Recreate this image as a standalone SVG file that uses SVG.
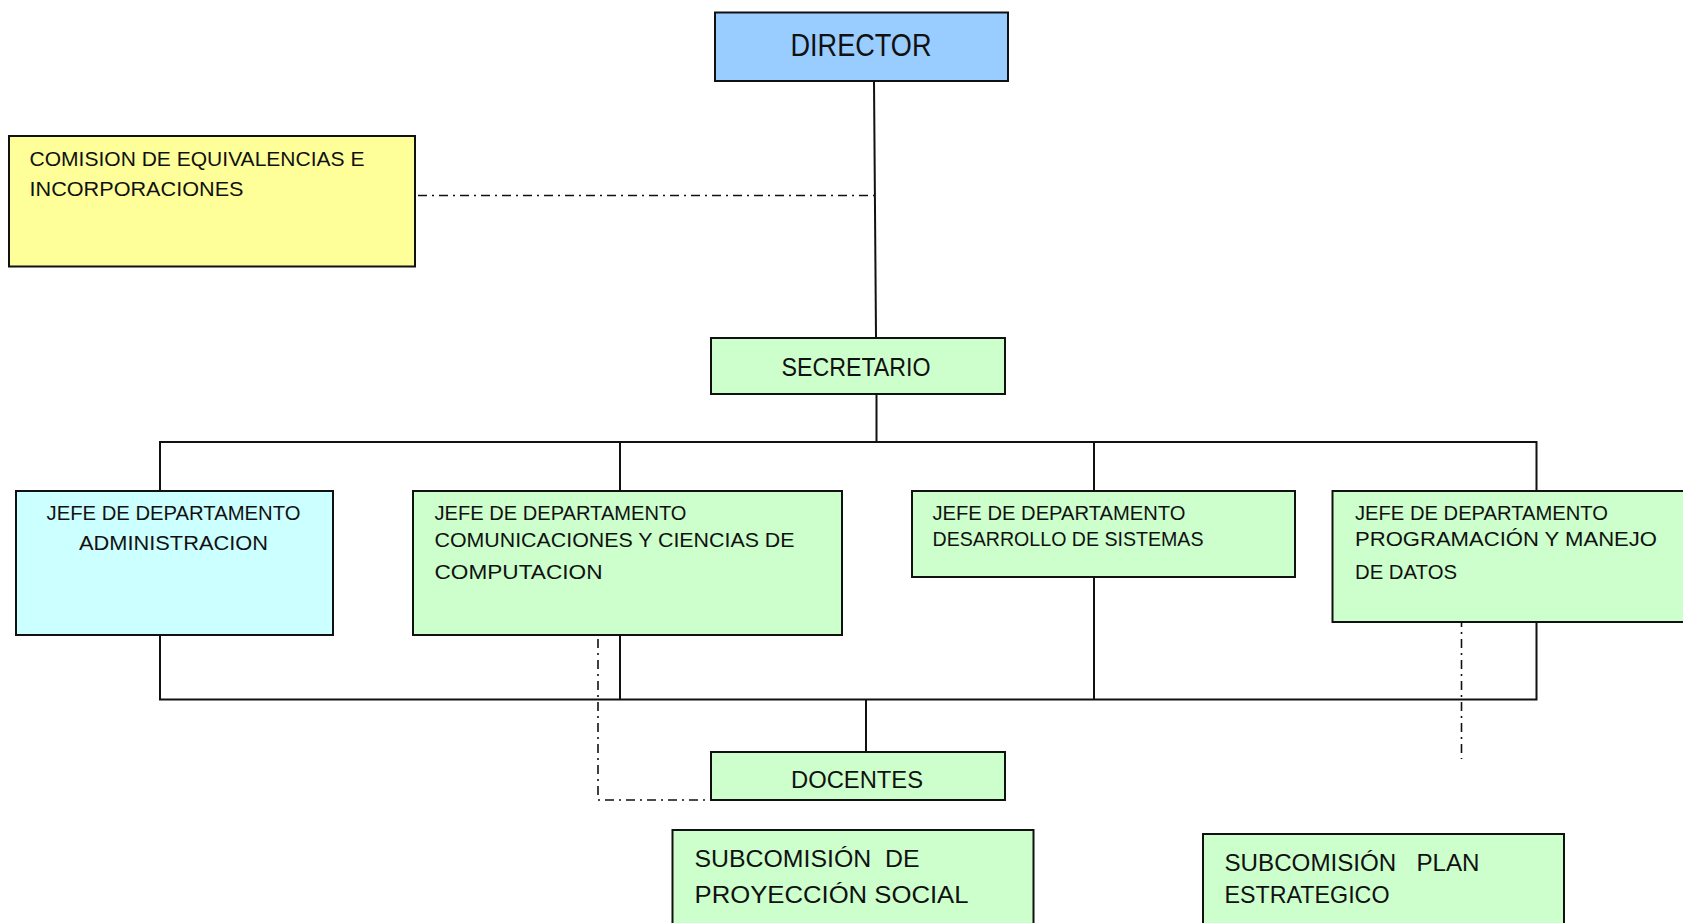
<svg xmlns="http://www.w3.org/2000/svg" width="1683" height="923" viewBox="0 0 1683 923">
<style>
.box{stroke:#111;stroke-width:2}
.blue{fill:#99CCFF}
.yellow{fill:#FFFF99}
.cyan{fill:#CCFFFF}
.green{fill:#CCFFCC}
.t{font-family:"Liberation Sans",Arial,sans-serif;fill:#111;font-size:20px}
.c{text-anchor:middle}
.ln{stroke:#111;stroke-width:2;fill:none}
.dd{stroke:#111;stroke-width:1.6;fill:none;stroke-dasharray:9 5 2 5}
</style>
<rect width="1683" height="923" fill="#fff"/>
<g id="connectors">
<line class="ln" x1="874" y1="81" x2="876" y2="338"/>
<path class="dd" d="M418 195.5 H874"/>
<line class="ln" x1="876.5" y1="394" x2="876.5" y2="442"/>
<path class="ln" d="M160 491 V442 H1536.5 V491"/>
<line class="ln" x1="620" y1="442" x2="620" y2="491"/>
<line class="ln" x1="1094" y1="442" x2="1094" y2="491"/>
<path class="ln" d="M160 635 V699.5 H1536.5 V622"/>
<line class="ln" x1="620" y1="635" x2="620" y2="699.5"/>
<line class="ln" x1="1094" y1="577" x2="1094" y2="699.5"/>
<line class="ln" x1="866" y1="699.5" x2="866" y2="752"/>
<path class="dd" d="M598 618 V800 H711"/>
<path class="dd" d="M1461.5 618 V759"/>
</g>
<g id="director">
<rect class="box blue" x="715" y="12.5" width="293" height="68.5"/>
<text class="t c" x="861" y="56" style="font-size:31px" textLength="141" lengthAdjust="spacingAndGlyphs">DIRECTOR</text>
</g>
<g id="comision">
<rect class="box yellow" x="9" y="136" width="406" height="130.5"/>
<text class="t" x="29.5" y="166" style="font-size:21px" textLength="335" lengthAdjust="spacingAndGlyphs">COMISION DE EQUIVALENCIAS E</text>
<text class="t" x="29.5" y="196" style="font-size:21px" textLength="214" lengthAdjust="spacingAndGlyphs">INCORPORACIONES</text>
</g>
<g id="secretario">
<rect class="box green" x="711" y="338" width="294" height="56"/>
<text class="t c" x="856" y="376" style="font-size:25px" textLength="149" lengthAdjust="spacingAndGlyphs">SECRETARIO</text>
</g>
<g id="jefe-administracion">
<rect class="box cyan" x="16" y="491" width="317" height="144"/>
<text class="t c" x="173.5" y="520" textLength="254" lengthAdjust="spacingAndGlyphs">JEFE DE DEPARTAMENTO</text>
<text class="t c" x="173.5" y="550" textLength="189" lengthAdjust="spacingAndGlyphs">ADMINISTRACION</text>
</g>
<g id="jefe-comunicaciones">
<rect class="box green" x="413" y="491" width="429" height="144"/>
<text class="t" x="434.5" y="520" textLength="252" lengthAdjust="spacingAndGlyphs">JEFE DE DEPARTAMENTO</text>
<text class="t" x="434.5" y="547" textLength="360" lengthAdjust="spacingAndGlyphs">COMUNICACIONES Y CIENCIAS DE</text>
<text class="t" x="434.5" y="579" textLength="168" lengthAdjust="spacingAndGlyphs">COMPUTACION</text>
</g>
<g id="jefe-desarrollo">
<rect class="box green" x="912" y="491" width="383" height="86"/>
<text class="t" x="932.5" y="520" textLength="253" lengthAdjust="spacingAndGlyphs">JEFE DE DEPARTAMENTO</text>
<text class="t" x="932.5" y="546" textLength="271" lengthAdjust="spacingAndGlyphs">DESARROLLO DE SISTEMAS</text>
</g>
<g id="jefe-programacion">
<rect class="box green" x="1332.5" y="491" width="360" height="131"/>
<text class="t" x="1355" y="520" textLength="253" lengthAdjust="spacingAndGlyphs">JEFE DE DEPARTAMENTO</text>
<text class="t" x="1355" y="546" textLength="302" lengthAdjust="spacingAndGlyphs">PROGRAMACIÓN Y MANEJO</text>
<text class="t" x="1355" y="579" textLength="102" lengthAdjust="spacingAndGlyphs">DE DATOS</text>
</g>
<g id="docentes">
<rect class="box green" x="711" y="752" width="294" height="48"/>
<text class="t c" x="857" y="788" style="font-size:24px" textLength="132" lengthAdjust="spacingAndGlyphs">DOCENTES</text>
</g>
<g id="subcomision-proyeccion">
<rect class="box green" x="672.5" y="830" width="361" height="110"/>
<text class="t" x="694.5" y="866.5" style="font-size:24px;white-space:pre" xml:space="preserve" textLength="225" lengthAdjust="spacingAndGlyphs">SUBCOMISIÓN  DE</text>
<text class="t" x="694.5" y="902.5" style="font-size:24px" textLength="274" lengthAdjust="spacingAndGlyphs">PROYECCIÓN SOCIAL</text>
</g>
<g id="subcomision-plan">
<rect class="box green" x="1203" y="834" width="361" height="110"/>
<text class="t" x="1224.5" y="870.5" style="font-size:24px;white-space:pre" xml:space="preserve" textLength="255" lengthAdjust="spacingAndGlyphs">SUBCOMISIÓN   PLAN</text>
<text class="t" x="1224.5" y="902.5" style="font-size:24px" textLength="165" lengthAdjust="spacingAndGlyphs">ESTRATEGICO</text>
</g>
</svg>
